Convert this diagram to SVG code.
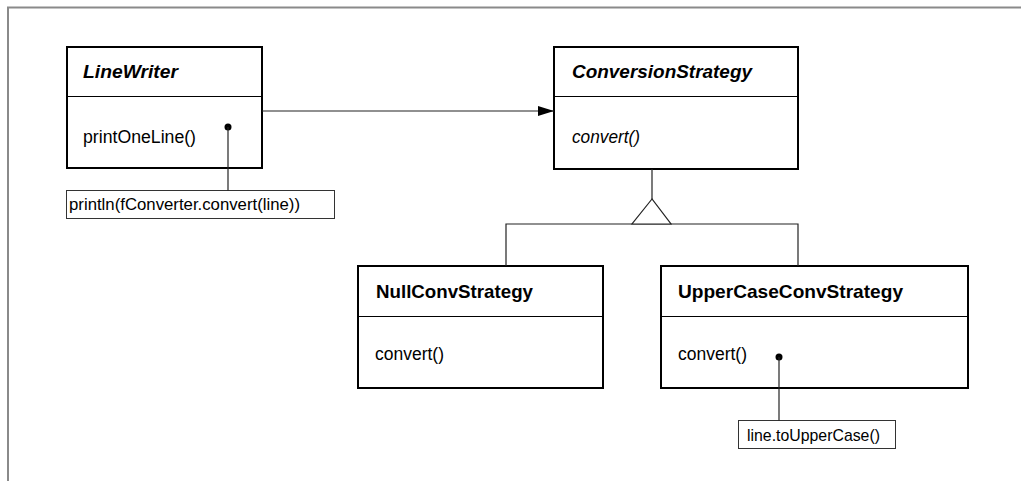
<svg xmlns="http://www.w3.org/2000/svg" width="1021" height="481" viewBox="0 0 1021 481">
  <style>
    .box { fill: #ffffff; stroke: #000000; stroke-width: 2; }
    .div { stroke: #000000; stroke-width: 1.2; }
    .note { fill: #ffffff; stroke: #333333; stroke-width: 1; }
    .conn { fill: none; stroke: #222222; stroke-width: 1.2; }
    .head { fill: #ffffff; stroke: #222222; stroke-width: 1.2; }
    .title { font-family: "Liberation Sans", Arial, sans-serif; font-size: 19px; font-weight: bold; fill: #000000; }
    .abstract { font-style: italic; }
    .op { font-family: "Liberation Sans", Arial, sans-serif; font-size: 18px; fill: #000000; }
    .ntext { font-family: "Liberation Sans", Arial, sans-serif; font-size: 17px; fill: #000000; }
  </style>
  <defs>
    <marker id="navArrow" markerWidth="16" markerHeight="10" refX="16" refY="5" orient="auto" markerUnits="userSpaceOnUse">
      <path d="M0,0 L16,5 L0,10 Z" fill="#000000"/>
    </marker>
  </defs>

  <rect width="1021" height="481" fill="#ffffff"/>
  <!-- page frame -->
  <path d="M8,481 L8,7.5 L1021,7.5" fill="none" stroke="#8a8a8a" stroke-width="2"/>

  <!-- classes -->
  <g id="LineWriter">
    <rect class="box" x="67" y="47" width="195" height="121"/>
    <line class="div" x1="67" y1="96.5" x2="262" y2="96.5"/>
    <text class="title abstract" x="83" y="78" textLength="95" lengthAdjust="spacingAndGlyphs">LineWriter</text>
    <text class="op" x="83" y="143" textLength="113" lengthAdjust="spacingAndGlyphs">printOneLine()</text>
    <circle cx="228" cy="127" r="3.5" fill="#000000"/>
  </g>

  <g id="ConversionStrategy">
    <rect class="box" x="554" y="47" width="244" height="122"/>
    <line class="div" x1="554" y1="96.5" x2="798" y2="96.5"/>
    <text class="title abstract" x="572" y="78" textLength="180" lengthAdjust="spacingAndGlyphs">ConversionStrategy</text>
    <text class="op abstract" x="572" y="143" textLength="68" lengthAdjust="spacingAndGlyphs">convert()</text>
  </g>

  <g id="NullConvStrategy">
    <rect class="box" x="358" y="266" width="245" height="122"/>
    <line class="div" x1="358" y1="316.5" x2="603" y2="316.5"/>
    <text class="title" x="376" y="298" textLength="157" lengthAdjust="spacingAndGlyphs">NullConvStrategy</text>
    <text class="op" x="375" y="360" textLength="69" lengthAdjust="spacingAndGlyphs">convert()</text>
  </g>

  <g id="UpperCaseConvStrategy">
    <rect class="box" x="661" y="266" width="307" height="122"/>
    <line class="div" x1="661" y1="316.5" x2="968" y2="316.5"/>
    <text class="title" x="678" y="298" textLength="225" lengthAdjust="spacingAndGlyphs">UpperCaseConvStrategy</text>
    <text class="op" x="678" y="360" textLength="69" lengthAdjust="spacingAndGlyphs">convert()</text>
    <circle cx="779" cy="357" r="3.5" fill="#000000"/>
  </g>

  <!-- notes -->
  <g id="noteLineWriter">
    <rect class="note" x="66.5" y="190.5" width="268" height="28"/>
    <text class="ntext" x="69" y="210" textLength="231" lengthAdjust="spacingAndGlyphs">println(fConverter.convert(line))</text>
  </g>

  <g id="noteUpperCase">
    <rect class="note" x="738.5" y="420.5" width="157" height="28"/>
    <text class="ntext" x="747" y="441" textLength="133" lengthAdjust="spacingAndGlyphs">line.toUpperCase()</text>
  </g>

  <!-- connectors, drawn over the class boxes so note anchors stay visible -->
  <g id="connectors">
    <line class="conn" x1="262" y1="111" x2="554" y2="111" marker-end="url(#navArrow)"/>
    <line class="conn" x1="652" y1="169" x2="652" y2="199"/>
    <polyline class="conn" points="506,266 506,224 798,224 798,266"/>
    <polygon class="head" points="652,199 632,224 671,224"/>
    <line class="conn" x1="228" y1="127" x2="228" y2="190.5"/>
    <line class="conn" x1="779" y1="357" x2="779" y2="420.5"/>
  </g>
</svg>
